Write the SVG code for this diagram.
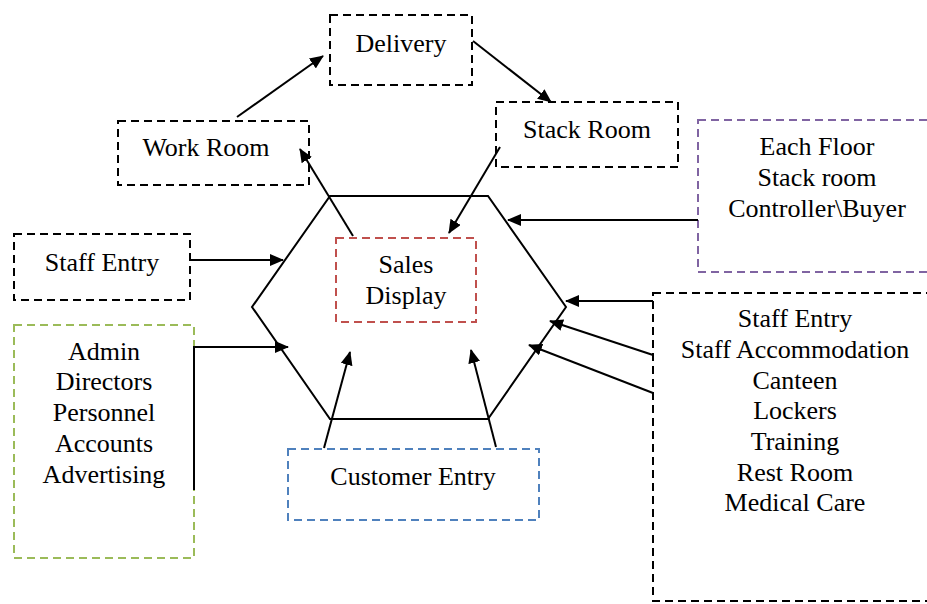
<svg xmlns="http://www.w3.org/2000/svg" width="927" height="604" viewBox="0 0 927 604">
<style>
.box{fill:none;stroke-width:2;stroke-dasharray:8 5}
.k{stroke:#000}
.red{stroke:#C0504D}
.blue{stroke:#4F81BD}
.green{stroke:#9BBB59}
.purple{stroke:#8064A2}
text{font-family:"Liberation Serif","Times New Roman",serif;font-size:26px;fill:#000;text-anchor:middle}
.c{fill:none;stroke:#000;stroke-width:2;marker-end:url(#ah)}
</style>
<defs>
<marker id="ah" markerUnits="userSpaceOnUse" markerWidth="14" markerHeight="12" refX="13" refY="6" orient="auto">
<path d="M0,0 L14,6 L0,12 z" fill="#000"/>
</marker>
</defs>
<rect width="927" height="604" fill="#fff"/>
<g id="hexagon"><polygon points="330,196 488,196 566,307 488,419 330,419 252,307" fill="none" stroke="#000" stroke-width="2"/></g>
<g id="delivery"><rect class="box k" x="330" y="15" width="142" height="70"/><text x="401" y="52">Delivery</text></g>
<g id="work-room"><rect class="box k" x="118" y="121" width="191" height="64"/><text x="206" y="156">Work Room</text></g>
<g id="stack-room"><rect class="box k" x="496" y="102" width="182" height="65"/><text x="587" y="138">Stack Room</text></g>
<g id="each-floor"><rect class="box purple" x="698" y="120" width="240" height="152"/><text x="817" y="155">Each Floor</text><text x="817" y="186">Stack room</text><text x="817" y="217">Controller\Buyer</text></g>
<g id="staff-entry-left"><rect class="box k" x="14" y="234" width="176" height="66"/><text x="102" y="271">Staff Entry</text></g>
<g id="admin"><rect class="box green" x="14" y="325" width="180" height="233"/><text x="104" y="360">Admin</text><text x="104" y="390">Directors</text><text x="104" y="421">Personnel</text><text x="104" y="452">Accounts</text><text x="104" y="483">Advertising</text></g>
<g id="sales-display"><rect class="box red" x="336" y="238" width="140" height="84"/><text x="406" y="273">Sales</text><text x="406" y="304">Display</text></g>
<g id="customer-entry"><rect class="box blue" x="288" y="449" width="251" height="71"/><text x="413" y="485">Customer Entry</text></g>
<g id="staff-facilities"><rect class="box k" x="653" y="293" width="285" height="308"/><text x="795" y="327">Staff Entry</text><text x="795" y="358">Staff Accommodation</text><text x="795" y="389">Canteen</text><text x="795" y="419">Lockers</text><text x="795" y="450">Training</text><text x="795" y="481">Rest Room</text><text x="795" y="511">Medical Care</text></g>
<g id="connectors">
<path class="c" d="M237,117 L323,56"/>
<path class="c" d="M473,41 L551,102"/>
<path class="c" d="M353,236 L300,149"/>
<path class="c" d="M500,147 L449,233"/>
<path class="c" d="M698,220 L508,220"/>
<path class="c" d="M191,260 L283,260"/>
<path class="c" d="M194,490 L194,347 L288,347"/>
<path class="c" d="M653,301 L566,301"/>
<path class="c" d="M653,355 L550,321"/>
<path class="c" d="M653,393 L529,345"/>
<path class="c" d="M324,448 L350,352"/>
<path class="c" d="M496,447 L471,350"/>
</g>
</svg>
